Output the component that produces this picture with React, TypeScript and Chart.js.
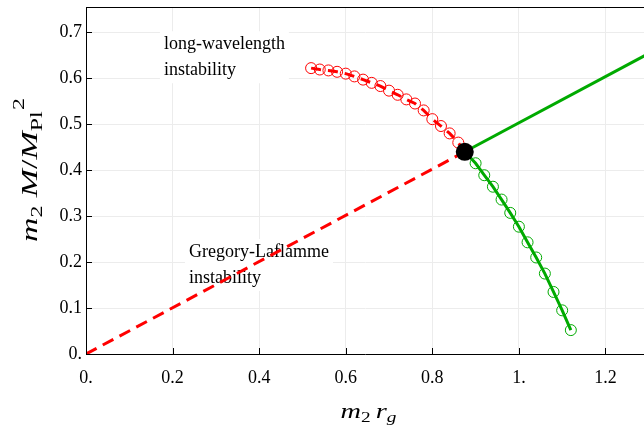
import React, { useEffect, useRef } from 'react';
import { Chart, registerables } from 'chart.js';

Chart.register(...registerables);

// ---- data ----
const redX = [0.52, 0.54, 0.56, 0.58, 0.6, 0.62, 0.64, 0.66, 0.68, 0.7, 0.72, 0.74, 0.76, 0.78, 0.8, 0.82, 0.84, 0.86];
const redY = [0.622, 0.619, 0.617, 0.614, 0.61, 0.604, 0.597, 0.59, 0.583, 0.573, 0.564, 0.554, 0.545, 0.53, 0.511, 0.496, 0.48, 0.46];
const greenX = [0.9, 0.92, 0.94, 0.96, 0.98, 1.0, 1.02, 1.04, 1.06, 1.08, 1.1, 1.12];
const greenY = [0.415, 0.389, 0.364, 0.336, 0.307, 0.277, 0.243, 0.21, 0.175, 0.135, 0.095, 0.052];
const criticalX = 0.875;
const criticalY = 0.44;
const gregoryX = [0, 0.875];
const gregoryY = [0, 0.44];
const stableX = [0.875, 1.3];
const stableY = [0.44, 0.654];

const xTicks = [0, 0.2, 0.4, 0.6, 0.8, 1.0, 1.2];
const xTickLabels = ['0.', '0.2', '0.4', '0.6', '0.8', '1.', '1.2'];
const yTicks = [0, 0.1, 0.2, 0.3, 0.4, 0.5, 0.6, 0.7];
const yTickLabels = ['0.', '0.1', '0.2', '0.3', '0.4', '0.5', '0.6', '0.7'];

const xMin = 0, xMax = 1.289;
const yMin = 0, yMax = 0.755;

const annotationLines1 = ['long-wavelength', 'instability'];
const annotationPos1 = { x: 0.18, y: 0.674 };
const annotationLines2 = ['Gregory-Laflamme', 'instability'];
const annotationPos2 = { x: 0.238, y: 0.222 };

const RED = 'rgb(255,0,0)';
const GREEN = 'rgb(0,170,0)';
const SERIF = '"Liberation Serif", "DejaVu Serif", serif';

const pts = (xs: number[], ys: number[]) => xs.map((x, i) => ({ x, y: ys[i] }));

type Part = { t: string; size: number; italic?: boolean; dy?: number; gap?: number };

function drawRich(ctx: CanvasRenderingContext2D, parts: Part[], cx: number, cy: number, rot: number, targetW: number) {
  ctx.save();
  ctx.translate(cx, cy);
  ctx.rotate(rot);
  const fontOf = (p: Part) => `${p.italic ? 'italic ' : ''}${p.size}px ${SERIF}`;
  let w = 0;
  for (const p of parts) {
    ctx.font = fontOf(p);
    w += ctx.measureText(p.t).width + (p.gap || 0);
  }
  const sx = targetW / w;
  ctx.scale(sx, 1);
  let x = -w / 2;
  ctx.fillStyle = '#000';
  ctx.textAlign = 'left';
  ctx.textBaseline = 'alphabetic';
  for (const p of parts) {
    ctx.font = fontOf(p);
    x += p.gap || 0;
    ctx.fillText(p.t, x, p.dy || 0);
    x += ctx.measureText(p.t).width;
  }
  ctx.restore();
}

const framePlugin = {
  id: 'frameDecor',
  beforeDatasetsDraw(chart: any) {
    const ctx: CanvasRenderingContext2D = chart.ctx;
    const xs = chart.scales.x;
    const ys = chart.scales.y;
    const drawNote = (lines: string[], pos: { x: number; y: number }) => {
      const px = xs.getPixelForValue(pos.x);
      const py = ys.getPixelForValue(pos.y);
      ctx.save();
      ctx.font = `18px ${SERIF}`;
      let w = 0;
      for (const l of lines) w = Math.max(w, ctx.measureText(l).width);
      const lh = 26;
      ctx.fillStyle = '#fff';
      ctx.fillRect(px - 4, py - 13, w + 8, lh * (lines.length - 1) + 26);
      ctx.fillStyle = '#000';
      ctx.textAlign = 'left';
      ctx.textBaseline = 'middle';
      lines.forEach((l, i) => ctx.fillText(l, px, py + i * lh));
      ctx.restore();
    };
    drawNote(annotationLines1, annotationPos1);
    drawNote(annotationLines2, annotationPos2);
  },
  afterDraw(chart: any) {
    const ctx: CanvasRenderingContext2D = chart.ctx;
    const { left, right, top, bottom } = chart.chartArea;
    const xs = chart.scales.x;
    const ys = chart.scales.y;
    ctx.save();
    ctx.strokeStyle = '#000';
    ctx.lineWidth = 1;
    ctx.beginPath();
    ctx.moveTo(left, top + 0.5);
    ctx.lineTo(right, top + 0.5);
    for (const v of xTicks) {
      const px = Math.round(xs.getPixelForValue(v)) + 0.5;
      ctx.moveTo(px, bottom);
      ctx.lineTo(px, bottom - 6);
    }
    for (const v of yTicks) {
      const py = Math.round(ys.getPixelForValue(v)) + 0.5;
      ctx.moveTo(left, py);
      ctx.lineTo(left + 6, py);
    }
    ctx.stroke();
    ctx.restore();

    // axis titles
    drawRich(ctx, [
      { t: 'm', size: 22, italic: true },
      { t: '2', size: 15, dy: 4 },
      { t: 'r', size: 22, italic: true, gap: 4 },
      { t: 'g', size: 15, italic: true, dy: 4 },
    ], 368.5, 418, 0, 56);
    drawRich(ctx, [
      { t: 'm', size: 24, italic: true },
      { t: '2', size: 17, dy: 5 },
      { t: 'M', size: 24, italic: true, gap: 6 },
      { t: '/', size: 24 },
      { t: 'M', size: 24, italic: true },
      { t: 'Pl', size: 17, dy: 5 },
      { t: '2', size: 17, dy: -13, gap: 1 },
    ], 37, 170, -Math.PI / 2, 144);
  },
};

export default function App() {
  const ref = useRef<HTMLCanvasElement | null>(null);
  useEffect(() => {
    if (!ref.current) return;
    const chart = new Chart(ref.current, {
      type: 'scatter',
      data: {
        datasets: [
          {
            type: 'line',
            order: 3,
            data: pts(gregoryX, gregoryY),
            borderColor: RED,
            borderWidth: 3,
            borderDash: [12, 7],
            pointRadius: 0,
            fill: false,
          },
          {
            type: 'line',
            order: 3,
            data: pts(stableX, stableY),
            borderColor: GREEN,
            borderWidth: 3,
            pointRadius: 0,
            fill: false,
          },
          {
            type: 'line',
            order: 3,
            data: [...pts(redX, redY), { x: criticalX, y: criticalY }],
            borderColor: RED,
            borderWidth: 3,
            borderDash: [10, 7],
            pointRadius: 0,
            fill: false,
          },
          {
            type: 'line',
            order: 3,
            data: [{ x: criticalX, y: criticalY }, ...pts(greenX, greenY)],
            borderColor: GREEN,
            borderWidth: 3,
            pointRadius: 0,
            fill: false,
          },
          {
            order: 2,
            data: pts(redX, redY),
            borderColor: RED,
            backgroundColor: 'rgba(0,0,0,0)',
            borderWidth: 1,
            pointRadius: 5.5,
            showLine: false,
          },
          {
            order: 2,
            data: pts(greenX, greenY),
            borderColor: GREEN,
            backgroundColor: 'rgba(0,0,0,0)',
            borderWidth: 1,
            pointRadius: 5.5,
            showLine: false,
          },
          {
            order: 1,
            data: [{ x: criticalX, y: criticalY }],
            borderColor: '#000',
            backgroundColor: '#000',
            borderWidth: 0,
            pointRadius: 9,
            showLine: false,
          },
        ],
      },
      options: {
        responsive: false,
        animation: false,
        layout: { autoPadding: false, padding: { top: 7, left: 0, right: 0, bottom: 0 } },
        plugins: { legend: { display: false }, tooltip: { enabled: false } },
        scales: {
          x: {
            type: 'linear',
            min: xMin,
            max: xMax,
            afterBuildTicks: (s: any) => { s.ticks = xTicks.map((v) => ({ value: v })); },
            afterFit: (s: any) => { s.height = 77; s.paddingLeft = 0; s.paddingRight = 0; },
            ticks: {
              callback: (_v: any, i: number) => xTickLabels[i],
              font: { family: SERIF, size: 18 },
              color: '#000',
              padding: 13,
              maxRotation: 0,
            },
            grid: { color: '#ececec', lineWidth: 1, drawTicks: false },
            border: { color: '#000', width: 1 },
          },
          y: {
            type: 'linear',
            min: yMin,
            max: yMax,
            afterBuildTicks: (s: any) => { s.ticks = yTicks.map((v) => ({ value: v })); },
            afterFit: (s: any) => { s.width = 86; s.paddingTop = 0; s.paddingBottom = 0; },
            ticks: {
              callback: (_v: any, i: number) => yTickLabels[i],
              font: { family: SERIF, size: 18 },
              color: '#000',
              padding: 4,
            },
            grid: { color: '#ececec', lineWidth: 1, drawTicks: false },
            border: { color: '#000', width: 1 },
          },
        },
      },
      plugins: [framePlugin],
    } as any);
    return () => chart.destroy();
  }, []);
  return (
    <div style={{ position: 'absolute', left: 0, top: 0, width: 644, height: 431, background: '#fff' }}>
      <canvas ref={ref} width={644} height={431} style={{ display: 'block' }} />
    </div>
  );
}
